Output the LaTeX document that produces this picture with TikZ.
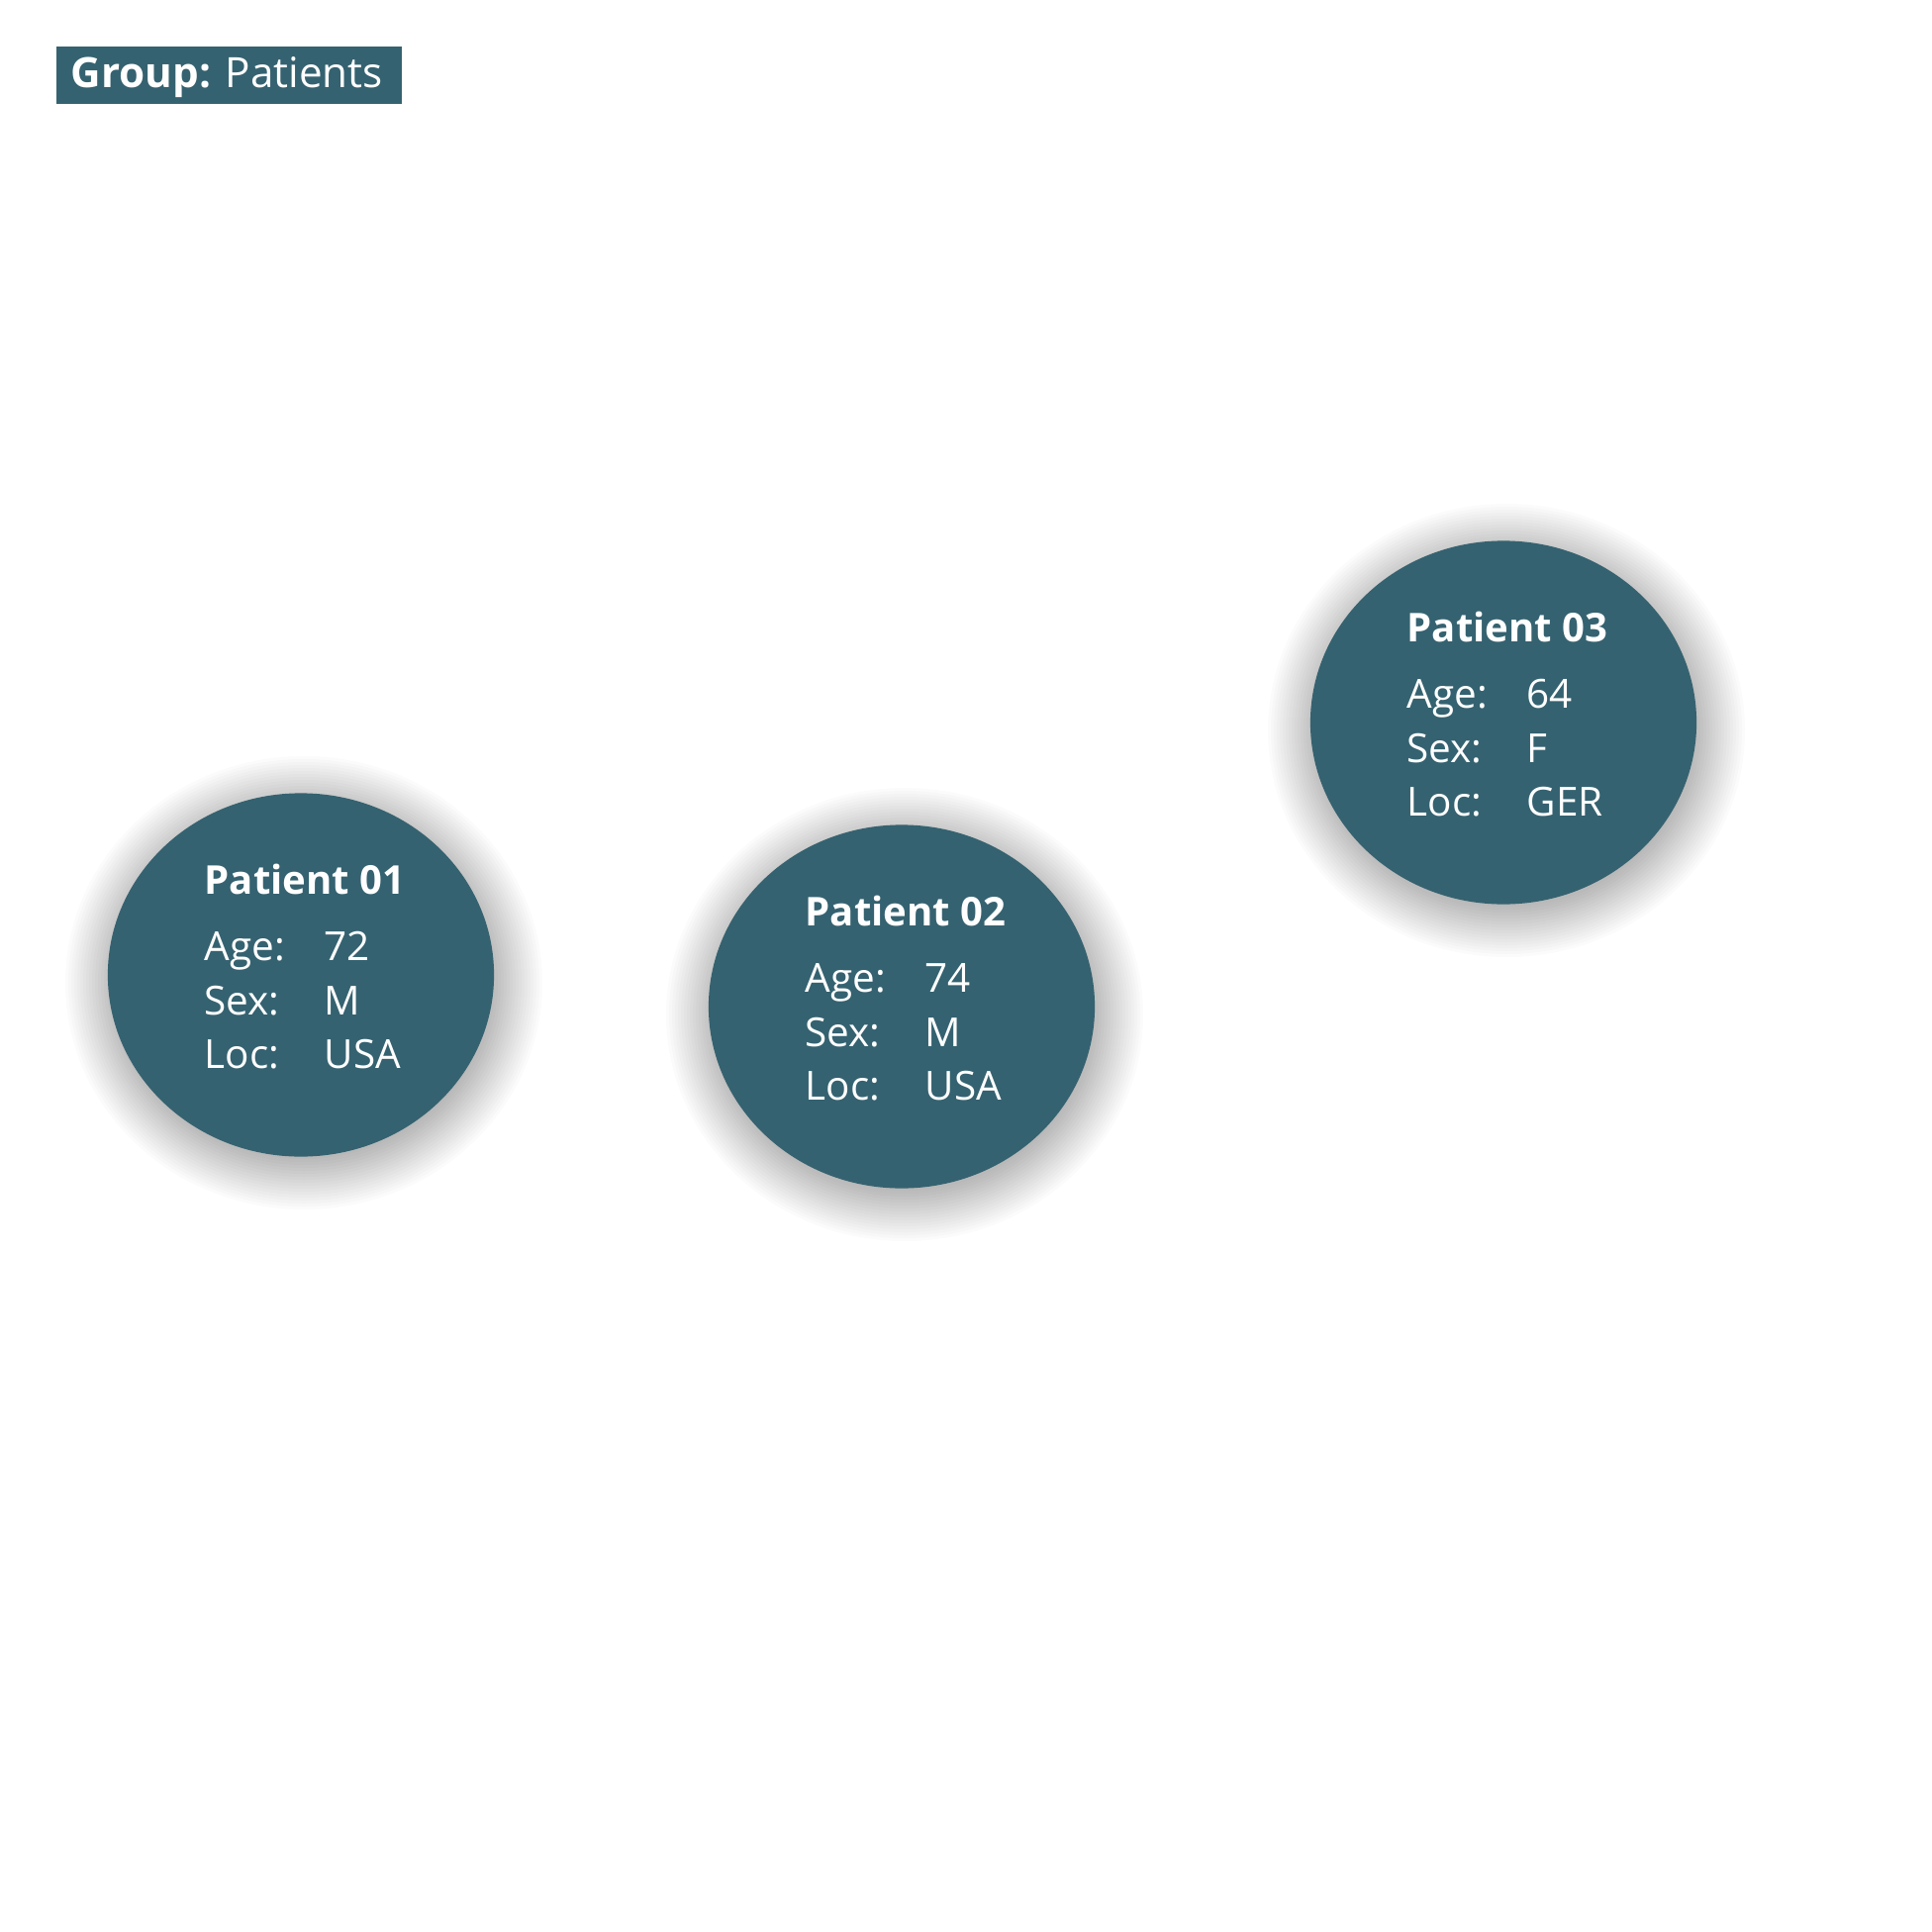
\documentclass[tikz,border=0pt]{standalone}
\usepackage{fontspec}
\setmainfont{Open Sans}
\usetikzlibrary{shapes.geometric,calc}
\definecolor{pteal}{RGB}{53,98,112}
\tikzset{
  patient/.style={ellipse, fill=pteal, draw=none, minimum width=3.9cm, minimum height=3.67cm, inner sep=0pt},
  pshadow/.style={fill=black, fill opacity=0.016, draw=none},
  ptxt/.style={anchor=base west, text=white, inner sep=0pt, font=\fontsize{11.5}{14}\selectfont},
  ptitle/.style={ptxt, font=\fontsize{11.4}{14}\selectfont\bfseries},
  groupbox/.style={fill=pteal, anchor=north west, minimum width=3.49cm, minimum height=0.58cm, inner sep=0pt},
  grouptxt/.style={text=white, anchor=base west, inner sep=0pt, font=\fontsize{12}{14}\selectfont}
}
\begin{document}
\begin{tikzpicture}[x=0.01cm,y=-0.01cm]
\useasboundingbox[fill=white] (0,0) rectangle (1952,1952);
\node[groupbox] (grp) at (56,46) {};
\node[grouptxt] (grptxt) at ($(grp.north west)+(15,43)$) {\textbf{Group:} Patients};
\foreach \id/\cx/\cy/\num/\age/\sex/\loc in {p1/304/985/01/72/M/USA, p2/911/1017/02/74/M/USA, p3/1519/730/03/64/F/GER}{
  \foreach \k in {1,...,18}{
    \fill[pshadow] (\cx+3,\cy+8) ellipse [x radius={195-8+3*\k}, y radius={183-8+3*\k}];
  }
  \node[patient] (\id) at (\cx,\cy) {};
  \node[ptitle] (\id t) at ($(\id.center)+(-98,-82)$) {Patient \num};
  \node[ptxt] (\id al) at ($(\id.center)+(-98,-15)$) {Age:};
  \node[ptxt] (\id sl) at ($(\id.center)+(-98,40)$) {Sex:};
  \node[ptxt] (\id ll) at ($(\id.center)+(-98,94)$) {Loc:};
  \node[ptxt] (\id av) at ($(\id.center)+(23,-15)$) {\age};
  \node[ptxt] (\id sv) at ($(\id.center)+(23,40)$) {\sex};
  \node[ptxt] (\id lv) at ($(\id.center)+(23,94)$) {\loc};
}
\end{tikzpicture}
\end{document}
